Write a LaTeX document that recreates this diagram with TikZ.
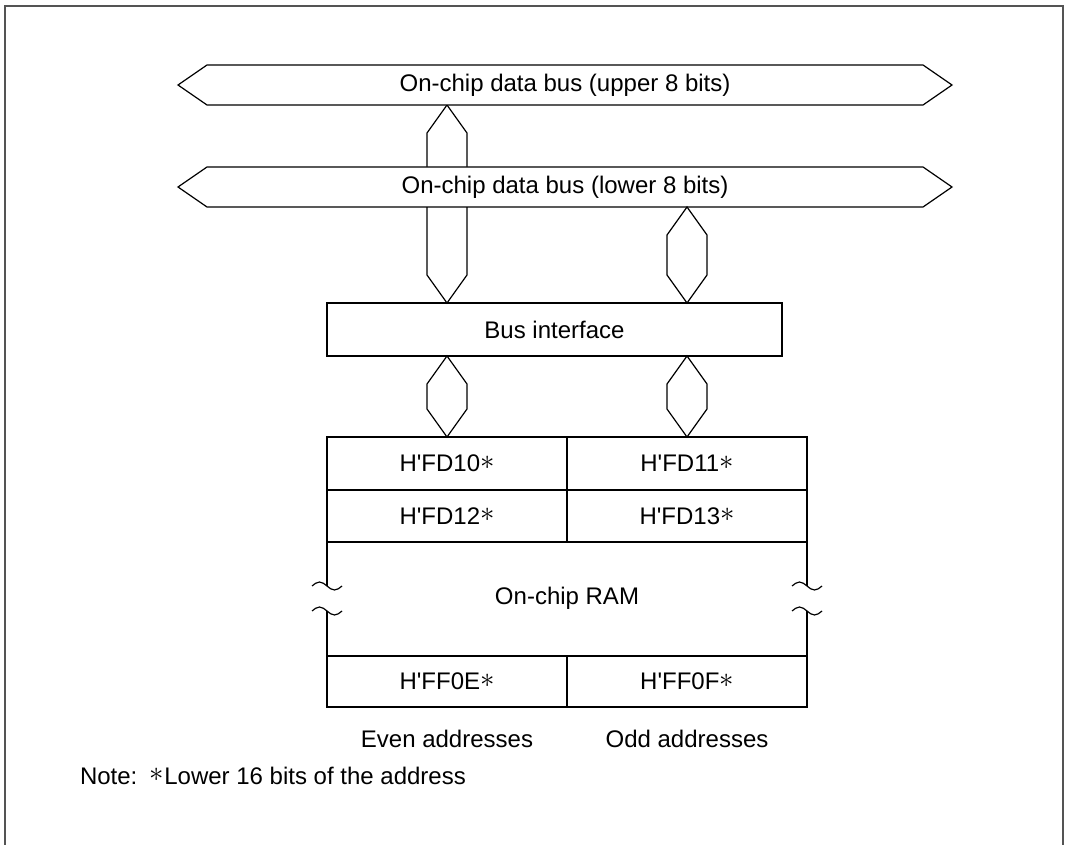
\documentclass[tikz,border=0pt]{standalone}
\usepackage{fontspec}
\setmainfont{Liberation Sans}
\usetikzlibrary{calc}
\pgfdeclarelayer{back}
\pgfdeclarelayer{mid}
\pgfsetlayers{back,mid,main}
\newcommand\astk{\raisebox{1.3pt}{\scalebox{1.2}{$\ast$}}}
\newcommand\hq{H\textquotesingle}
\newcommand\hexlink[2]{\draw[ln] (#1) -- ++(20,28) -- ($(#2)+(20,-28)$) -- (#2) -- ++(-20,-28) -- ($(#1)+(-20,28)$) -- cycle;}
\newcommand\wave[1]{\draw[ln] ($(#1)+(-15,0)$) sin ++(7.5,-4) cos ++(7.5,4) sin ++(7.5,4) cos ++(7.5,-4);}
\tikzset{
  every node/.style={font=\fontsize{12}{14}\selectfont, inner sep=0pt, outer sep=0pt},
  ln/.style={line width=0.6pt, draw=black, line join=miter},
  frame/.style={line width=1pt, draw=black!67},
  busbody/.style={minimum width=358pt, minimum height=20pt},
  box/.style={ln, rectangle},
  cell/.style={ln, rectangle, minimum width=120pt}
}
\begin{document}
\begin{tikzpicture}[x=0.5pt,y=-0.5pt]
\useasboundingbox (0,0) rectangle (1068,844);
\draw[frame] (4.5,846) -- (4.5,6.5) -- (1062.5,6.5) -- (1062.5,846);

% buses
\node[busbody] (ub) at (565,85) {On-chip data bus (upper 8 bits)};
\node[busbody] (lb) at (565,187) {On-chip data bus (lower 8 bits)};
\begin{pgfonlayer}{mid}
  \foreach \b in {ub,lb}
    \draw[ln,fill=white] (\b.north west) -- (\b.north east) -- ($(\b.east)+(29,0)$)
      -- (\b.south east) -- (\b.south west) -- ($(\b.west)+(-29,0)$) -- cycle;
\end{pgfonlayer}

% bus interface
\node[box, minimum width=227.5pt, minimum height=26.5pt] (bi) at (554.5,329.5) {Bus interface};

% RAM cells
\node[cell, minimum height=26.5pt] (c10) at (447,463.5) {\hq FD10\astk};
\node[cell, minimum height=26.5pt] (c11) at (687,463.5) {\hq FD11\astk};
\node[cell, minimum height=26pt] (c12) at (447,516) {\hq FD12\astk};
\node[cell, minimum height=26pt] (c13) at (687,516) {\hq FD13\astk};
\node[cell, minimum height=25.5pt] (cFE) at (447,681.5) {\hq FF0E\astk};
\node[cell, minimum height=25.5pt] (cFF) at (687,681.5) {\hq FF0F\astk};
\node (ram) at (567,598) {On-chip RAM};

% connectors
\coordinate (l1t) at (c10 |- ub.south);
\coordinate (l1b) at (c10 |- bi.north);
\coordinate (r1t) at (c11 |- lb.south);
\coordinate (r1b) at (c11 |- bi.north);
\coordinate (l2t) at (c10 |- bi.south);
\coordinate (l2b) at (c10.north);
\coordinate (r2t) at (c11 |- bi.south);
\coordinate (r2b) at (c11.north);
\begin{pgfonlayer}{back}
  \hexlink{l1t}{l1b}
\end{pgfonlayer}
\hexlink{r1t}{r1b}
\hexlink{l2t}{l2b}
\hexlink{r2t}{r2b}

% RAM sides with breaks
\coordinate (wl1) at ($(c12.south west)+(0,44)$);
\coordinate (wl2) at ($(cFE.north west)+(0,-45)$);
\coordinate (wr1) at ($(c13.south east)+(0,44)$);
\coordinate (wr2) at ($(cFF.north east)+(0,-45)$);
\draw[ln] (c12.south west) -- (wl1);
\draw[ln] (wl2) -- (cFE.north west);
\draw[ln] (c13.south east) -- (wr1);
\draw[ln] (wr2) -- (cFF.north east);
\wave{wl1}
\wave{wl2}
\wave{wr1}
\wave{wr2}

% labels
\node (even) at (447,739) {Even addresses};
\node (odd) at (687,739) {Odd addresses};
\node[anchor=west] (note) at (80,776) {Note:\hspace{0.5em}\astk\hspace{0.3pt}Lower 16 bits of the address};
\end{tikzpicture}
\end{document}
